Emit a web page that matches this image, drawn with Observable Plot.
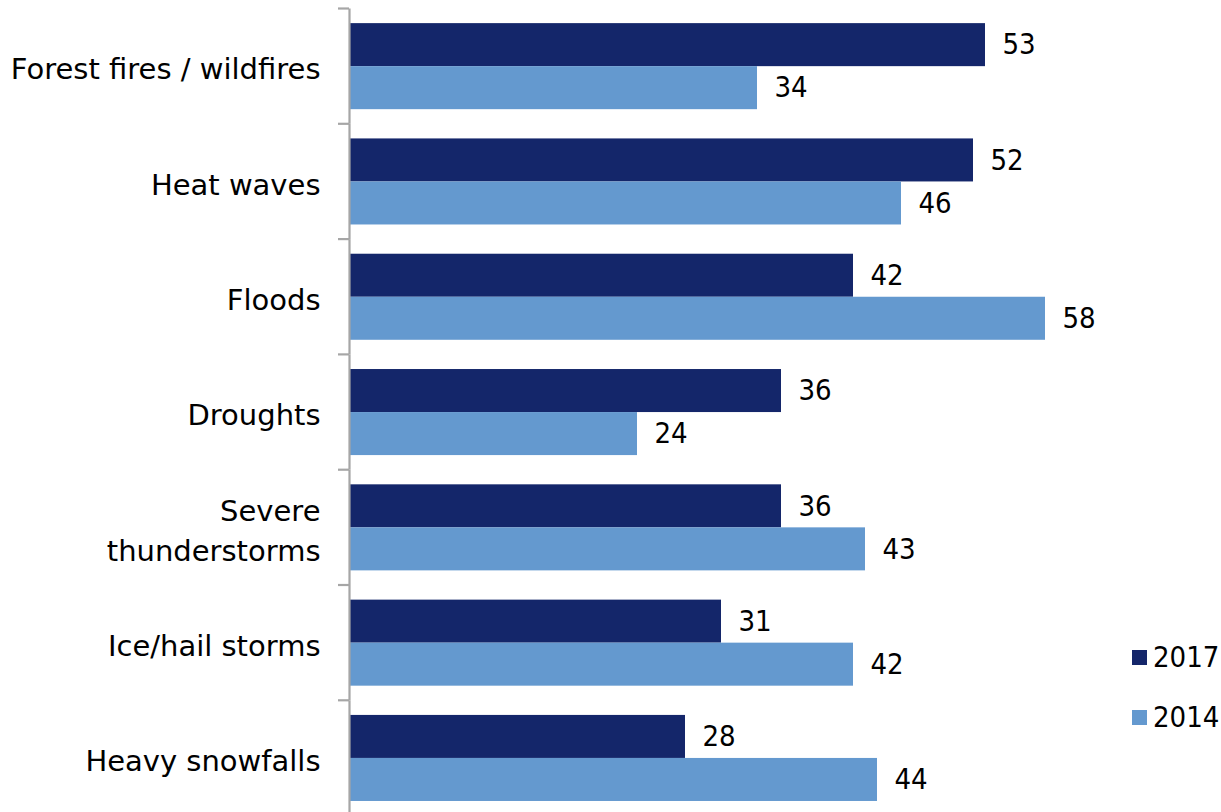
<!DOCTYPE html>
<html>
<head>
<meta charset="utf-8">
<script src="https://cdn.jsdelivr.net/npm/d3@7"></script>
<script src="https://cdn.jsdelivr.net/npm/@observablehq/plot@0.6"></script>
<style>
  html, body { margin: 0; padding: 0; background: #fff; }
  #wrap { position: relative; width: 1221px; height: 812px; overflow: hidden; font-family: "DejaVu Sans", sans-serif; }
  .legend { position: absolute; left: 1132px; font-size: 29px; color: #000; font-family: "DejaVu Sans Condensed", "DejaVu Sans", sans-serif; }
  .legend div { display: flex; align-items: center; height: 60px; white-space: nowrap; }
  .legend span.sw { display: inline-block; width: 15px; height: 15px; margin-right: 6px; }
</style>
</head>
<body>
<div id="wrap"></div>
<script>
// Share of respondents naming each extreme-weather event, by survey year
const categories = [
  "Forest fires / wildfires",
  "Heat waves",
  "Floods",
  "Droughts",
  "Severe thunderstorms",
  "Ice/hail storms",
  "Heavy snowfalls"
];
const labelLines = {
  "Severe thunderstorms": "Severe\nthunderstorms"
};
const years = ["2017", "2014"];
const values2017 = [53, 52, 42, 36, 36, 31, 28];
const values2014 = [34, 46, 58, 24, 43, 42, 44];
const colors = ["#14266a", "#6499cf"];

const rows = [];
categories.forEach((c, i) => {
  rows.push({category: c, year: "2017", value: values2017[i]});
  rows.push({category: c, year: "2014", value: values2014[i]});
});

const axisGray = "#a6a6a6";
const labelFont = "\"DejaVu Sans\", sans-serif";
const numberFont = "\"DejaVu Sans Condensed\", \"DejaVu Sans\", sans-serif";

const chart = Plot.plot({
  width: 1221,
  height: 812,
  marginTop: 8.5,
  marginBottom: -3.6,
  marginLeft: 349,
  marginRight: 152,
  style: {fontFamily: labelFont, fontSize: "29px", color: "#000", background: "#fff"},
  x: {domain: [0, 60], axis: null},
  y: {domain: years, paddingInner: 0, paddingOuter: 0.34, round: false, axis: null},
  fy: {domain: categories, padding: 0, round: false, axis: null},
  color: {domain: years, range: colors},
  marks: [
    Plot.barX(rows, {fy: "category", y: "year", x: "value", fill: "year", insetTop: 0, insetBottom: 0}),
    Plot.text(rows, {
      fy: "category", y: "year", x: "value", text: d => String(d.value),
      textAnchor: "start", dx: 17, fill: "#000", fontSize: 29, fontFamily: numberFont
    }),
    Plot.text(categories, {
      fy: d => d, text: d => labelLines[d] ?? d,
      frameAnchor: "left", textAnchor: "end", dx: -29,
      fill: "#000", fontSize: 29, lineHeight: 1.38
    }),
    Plot.ruleX([0], {stroke: axisGray, strokeWidth: 2.2})
  ]
});

// Boundary ticks to the left of the category axis
const fy = chart.scale("fy");
const svg = d3.select(chart.tagName === "svg" ? chart : chart.querySelector("svg"));
const x0 = chart.scale("x").apply(0);
const tickYs = categories.map(c => fy.apply(c));
tickYs.push(fy.apply(categories[categories.length - 1]) + fy.step);
svg.append("g")
  .selectAll("line")
  .data(tickYs)
  .join("line")
  .attr("x1", x0 - 11)
  .attr("x2", x0)
  .attr("y1", d => d)
  .attr("y2", d => d)
  .attr("stroke", axisGray)
  .attr("stroke-width", 2.2);

const wrap = document.getElementById("wrap");
wrap.appendChild(chart);

// Legend at the lower right
const legend = document.createElement("div");
legend.className = "legend";
legend.style.top = "627px";
years.forEach((y, i) => {
  const item = document.createElement("div");
  const sw = document.createElement("span");
  sw.className = "sw";
  sw.style.background = colors[i];
  item.appendChild(sw);
  item.appendChild(document.createTextNode(y));
  legend.appendChild(item);
});
wrap.appendChild(legend);
</script>
</body>
</html>
